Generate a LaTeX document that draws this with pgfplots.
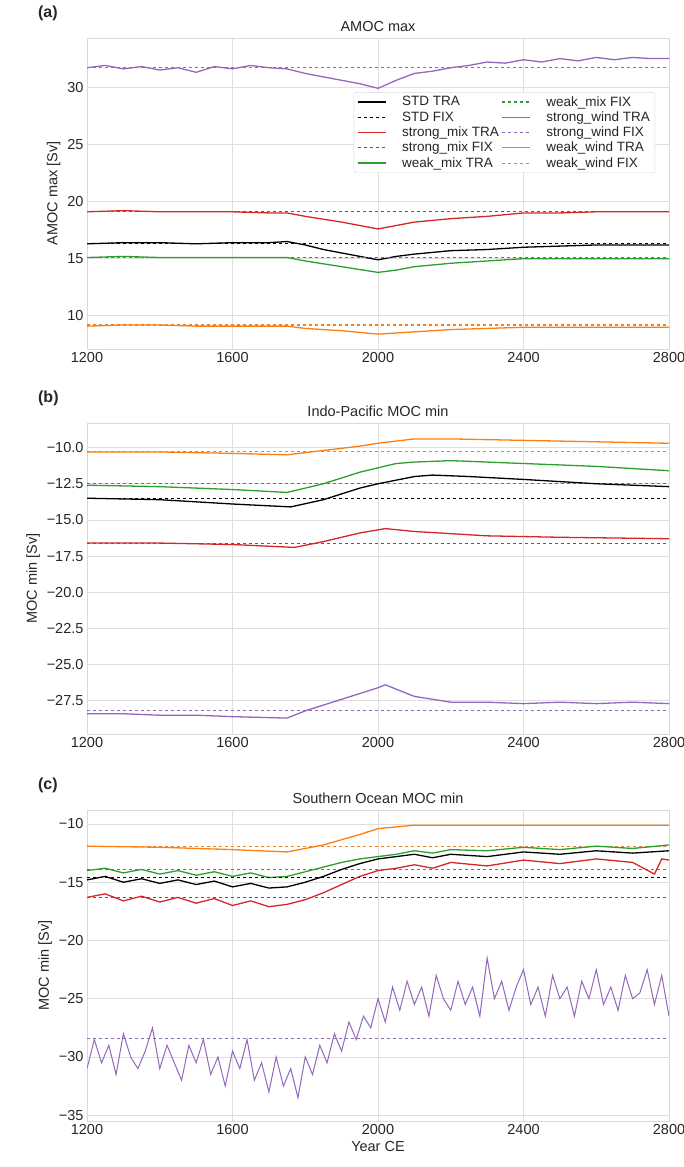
\documentclass[border=0pt]{standalone}
\usepackage{pgfplots}
\pgfplotsset{compat=1.18}
\usepackage{fontspec}
\setmainfont{Liberation Sans}
\definecolor{cr}{HTML}{D62728}
\definecolor{cg}{HTML}{2CA02C}
\definecolor{cp}{HTML}{9467BD}
\definecolor{co}{HTML}{FF7F0E}
\pgfplotsset{
 base/.style={scale only axis, width=582pt, height=311pt, anchor=north west,
  xmin=1200,xmax=2800, xtick={1200,1600,2000,2400,2800},
  /pgf/number format/assume math mode=true,
  /pgf/number format/1000 sep={},
  grid=major, grid style={gray!25,line width=0.8pt},
  axis line style={gray!30,line width=1pt}, tick style={draw=none},
  ticklabel style={font=\fontsize{14.5}{16}\selectfont, text=black!85},
  label style={font=\fontsize{14.5}{16}\selectfont, text=black!85},
  title style={font=\fontsize{14.5}{16}\selectfont, text=black!85, yshift=-3pt},
  every axis plot/.append style={line width=1.3pt},
  clip mode=individual},
 fix/.style={dashed, line width=1.1pt},
}
\begin{document}
\begin{tikzpicture}
\useasboundingbox (0,0) rectangle (683pt,-1167pt);
\begin{axis}[base, at={(87pt,-38pt)}, ymin=7.1, ymax=34.3,
 ytick={10,15,20,25,30}, title={AMOC max}, ylabel={AMOC max [Sv]},
 legend columns=2,
 legend image code/.code={\draw[#1] (0pt,0pt) -- (28pt,0pt);},
 legend style={at={(0.976,0.826)},anchor=north east,font=\fontsize{13.5}{16}\selectfont,text=black!85,draw=gray!30,rounded corners=2pt,/tikz/every odd column/.style={column sep=14pt},row sep=0pt},
 legend cell align=left]
\addlegendimage{black,line width=1.3pt}\addlegendentry{STD TRA}
\addlegendimage{cg,dashed,line width=1.1pt}\addlegendentry{weak\_mix FIX}
\addlegendimage{black,dashed,line width=1.1pt}\addlegendentry{STD FIX}
\addlegendimage{cp,line width=1.3pt}\addlegendentry{strong\_wind TRA}
\addlegendimage{cr,line width=1.3pt}\addlegendentry{strong\_mix TRA}
\addlegendimage{cp,dashed,line width=1.1pt}\addlegendentry{strong\_wind FIX}
\addlegendimage{cr,dashed,line width=1.1pt}\addlegendentry{strong\_mix FIX}
\addlegendimage{co,line width=1.3pt}\addlegendentry{weak\_wind TRA}
\addlegendimage{cg,line width=1.3pt}\addlegendentry{weak\_mix TRA}
\addlegendimage{co,dashed,line width=1.1pt}\addlegendentry{weak\_wind FIX}
\addplot[black,forget plot] coordinates {(1200,16.3)(1300,16.4)(1400,16.4)(1500,16.3)(1600,16.4)(1700,16.4)(1750,16.5)(1800,16.2)(1850,15.8)(1900,15.5)(1950,15.2)(2000,14.9)(2050,15.2)(2100,15.4)(2200,15.7)(2300,15.8)(2400,16.0)(2500,16.1)(2600,16.2)(2700,16.2)(2800,16.2)};
\addplot[black,fix,forget plot] coordinates {(1200,16.3)(2800,16.3)};
\addplot[cr,forget plot] coordinates {(1200,19.1)(1300,19.2)(1400,19.1)(1500,19.1)(1600,19.1)(1700,19.0)(1750,19.0)(1800,18.7)(1900,18.2)(2000,17.6)(2050,17.9)(2100,18.2)(2200,18.5)(2300,18.7)(2400,19.0)(2500,19.0)(2600,19.1)(2700,19.1)(2800,19.1)};
\addplot[cr,fix,forget plot] coordinates {(1200,19.1)(2800,19.1)};
\addplot[cg,forget plot] coordinates {(1200,15.1)(1300,15.2)(1400,15.1)(1500,15.1)(1600,15.1)(1700,15.1)(1750,15.1)(1800,14.8)(1900,14.3)(2000,13.8)(2050,14.0)(2100,14.3)(2200,14.6)(2300,14.8)(2400,15.0)(2500,15.0)(2600,15.0)(2700,15.0)(2800,15.0)};
\addplot[cg,fix,forget plot] coordinates {(1200,15.1)(2800,15.1)};
\addplot[cp,forget plot] coordinates {(1200,31.7)(1250,31.9)(1300,31.6)(1350,31.8)(1400,31.5)(1450,31.7)(1500,31.3)(1550,31.8)(1600,31.6)(1650,31.9)(1700,31.7)(1750,31.6)(1800,31.2)(1850,30.9)(1900,30.6)(1950,30.3)(2000,29.9)(2050,30.6)(2100,31.2)(2150,31.4)(2200,31.7)(2250,31.9)(2300,32.2)(2350,32.1)(2400,32.4)(2450,32.2)(2500,32.5)(2550,32.3)(2600,32.6)(2650,32.4)(2700,32.6)(2750,32.5)(2800,32.5)};
\addplot[cp,fix,forget plot] coordinates {(1200,31.7)(2800,31.7)};
\addplot[co,forget plot] coordinates {(1200,9.1)(1300,9.2)(1400,9.2)(1500,9.1)(1600,9.1)(1700,9.1)(1750,9.1)(1800,8.9)(1900,8.7)(2000,8.4)(2100,8.6)(2200,8.8)(2300,8.9)(2400,9.0)(2500,9.0)(2600,9.0)(2700,9.0)(2800,9.0)};
\addplot[co,fix,forget plot] coordinates {(1200,9.2)(2800,9.2)};
\node[anchor=south west,font=\bfseries\fontsize{16}{18}\selectfont,text=black!85] at (rel axis cs:-0.09,1.045) {(a)};
\end{axis}

\begin{axis}[base, at={(87pt,-423pt)}, ymin=-29.8, ymax=-8.3,
 ytick={-27.5,-25,-22.5,-20,-17.5,-15,-12.5,-10},
 yticklabels={−27.5,−25.0,−22.5,−20.0,−17.5,−15.0,−12.5,−10.0},
 title={Indo-Pacific MOC min}, ylabel={MOC min [Sv]}]
\addplot[co] coordinates {(1200,-10.3)(1400,-10.3)(1600,-10.4)(1750,-10.5)(1850,-10.2)(1950,-9.9)(2000,-9.7)(2100,-9.4)(2200,-9.4)(2400,-9.5)(2600,-9.6)(2800,-9.7)};
\addplot[co,fix] coordinates {(1200,-10.3)(2800,-10.3)};
\addplot[cg] coordinates {(1200,-12.6)(1400,-12.7)(1600,-12.9)(1750,-13.1)(1850,-12.5)(1950,-11.7)(2050,-11.1)(2100,-11.0)(2200,-10.9)(2400,-11.1)(2600,-11.3)(2800,-11.6)};
\addplot[cg,fix] coordinates {(1200,-12.5)(2800,-12.5)};
\addplot[black] coordinates {(1200,-13.5)(1400,-13.6)(1600,-13.9)(1760,-14.1)(1850,-13.6)(1950,-12.8)(2000,-12.5)(2100,-12.0)(2150,-11.9)(2250,-12.0)(2400,-12.2)(2600,-12.5)(2800,-12.7)};
\addplot[black,fix] coordinates {(1200,-13.5)(2800,-13.5)};
\addplot[cr] coordinates {(1200,-16.6)(1400,-16.6)(1600,-16.7)(1770,-16.9)(1850,-16.5)(1950,-15.9)(2020,-15.6)(2100,-15.8)(2300,-16.1)(2500,-16.2)(2800,-16.3)};
\addplot[cr,fix] coordinates {(1200,-16.6)(2800,-16.6)};
\addplot[cp] coordinates {(1200,-28.4)(1300,-28.4)(1400,-28.5)(1500,-28.5)(1600,-28.6)(1750,-28.7)(1800,-28.2)(1900,-27.4)(1950,-27.0)(2000,-26.6)(2020,-26.4)(2050,-26.7)(2100,-27.2)(2200,-27.6)(2300,-27.6)(2400,-27.7)(2500,-27.6)(2600,-27.7)(2700,-27.6)(2800,-27.7)};
\addplot[cp,fix] coordinates {(1200,-28.2)(2800,-28.2)};
\node[anchor=south west,font=\bfseries\fontsize{16}{18}\selectfont,text=black!85] at (rel axis cs:-0.09,1.045) {(b)};
\end{axis}

\begin{axis}[base, at={(87pt,-810pt)}, ymin=-35.5, ymax=-8.8,
 ytick={-35,-30,-25,-20,-15,-10},
 yticklabels={−35,−30,−25,−20,−15,−10},
 title={Southern Ocean MOC min}, ylabel={MOC min [Sv]}, xlabel={Year CE}]
\addplot[co] coordinates {(1200,-11.9)(1400,-12.0)(1600,-12.2)(1750,-12.4)(1850,-11.8)(1950,-10.9)(2000,-10.4)(2100,-10.1)(2300,-10.1)(2500,-10.1)(2800,-10.1)};
\addplot[co,fix] coordinates {(1200,-11.9)(2800,-11.9)};
\addplot[cg] coordinates {(1200,-14.0)(1250,-13.8)(1300,-14.2)(1350,-13.9)(1400,-14.3)(1450,-14.0)(1500,-14.4)(1550,-14.1)(1600,-14.5)(1650,-14.2)(1700,-14.6)(1750,-14.5)(1800,-14.1)(1850,-13.7)(1900,-13.3)(1950,-13.0)(2000,-12.8)(2050,-12.6)(2100,-12.3)(2150,-12.5)(2200,-12.2)(2300,-12.3)(2400,-12.0)(2500,-12.2)(2600,-11.9)(2700,-12.1)(2800,-11.8)};
\addplot[cg,fix] coordinates {(1200,-13.9)(2800,-13.9)};
\addplot[black] coordinates {(1200,-14.8)(1250,-14.5)(1300,-15.0)(1350,-14.7)(1400,-15.1)(1450,-14.8)(1500,-15.2)(1550,-14.9)(1600,-15.4)(1650,-15.1)(1700,-15.5)(1750,-15.4)(1800,-15.0)(1850,-14.5)(1900,-13.9)(1950,-13.4)(2000,-13.0)(2050,-12.8)(2100,-12.6)(2150,-12.9)(2200,-12.6)(2300,-12.8)(2400,-12.4)(2500,-12.6)(2600,-12.3)(2700,-12.5)(2800,-12.3)};
\addplot[black,fix] coordinates {(1200,-14.6)(2800,-14.6)};
\addplot[cr] coordinates {(1200,-16.3)(1250,-16.0)(1300,-16.6)(1350,-16.2)(1400,-16.7)(1450,-16.3)(1500,-16.8)(1550,-16.4)(1600,-17.0)(1650,-16.6)(1700,-17.1)(1750,-16.9)(1800,-16.5)(1850,-15.9)(1900,-15.2)(1950,-14.5)(2000,-14.0)(2050,-13.8)(2100,-13.5)(2150,-13.8)(2200,-13.3)(2300,-13.6)(2400,-13.1)(2500,-13.4)(2600,-13.0)(2700,-13.3)(2760,-14.3)(2780,-13.0)(2800,-13.1)};
\addplot[cr,fix] coordinates {(1200,-16.3)(2800,-16.3)};
\addplot[cp, line width=1pt] coordinates {(1200,-31)(1220,-28.5)(1240,-30.5)(1260,-29)(1280,-31.5)(1300,-28)(1320,-30)(1340,-31)(1360,-29.5)(1380,-27.5)(1400,-31)(1420,-29)(1440,-30.5)(1460,-32)(1480,-29)(1500,-30.5)(1520,-28.5)(1540,-31.5)(1560,-30)(1580,-32.5)(1600,-29.5)(1620,-31)(1640,-28.5)(1660,-32)(1680,-30.5)(1700,-33)(1720,-30)(1740,-32.5)(1760,-31)(1780,-33.5)(1800,-30)(1820,-31.5)(1840,-29)(1860,-30.5)(1880,-28)(1900,-29.5)(1920,-27)(1940,-28.5)(1960,-26.5)(1980,-27.5)(2000,-25)(2020,-27)(2040,-24)(2060,-26)(2080,-23.5)(2100,-25.5)(2120,-24)(2140,-26.5)(2160,-23)(2180,-25)(2200,-26)(2220,-23.5)(2240,-25.5)(2260,-24)(2280,-26.5)(2300,-21.5)(2320,-25)(2340,-23.5)(2360,-26)(2380,-24)(2400,-22.5)(2420,-25.5)(2440,-24)(2460,-26.5)(2480,-23)(2500,-25)(2520,-24)(2540,-26.5)(2560,-23.5)(2580,-25)(2600,-22.5)(2620,-25.5)(2640,-24)(2660,-26)(2680,-23)(2700,-25)(2720,-24.5)(2740,-22.5)(2760,-25.5)(2780,-23)(2800,-26.5)};
\addplot[cp,fix] coordinates {(1200,-28.4)(2800,-28.4)};
\node[anchor=south west,font=\bfseries\fontsize{16}{18}\selectfont,text=black!85] at (rel axis cs:-0.09,1.045) {(c)};
\end{axis}
\end{tikzpicture}
\end{document}
